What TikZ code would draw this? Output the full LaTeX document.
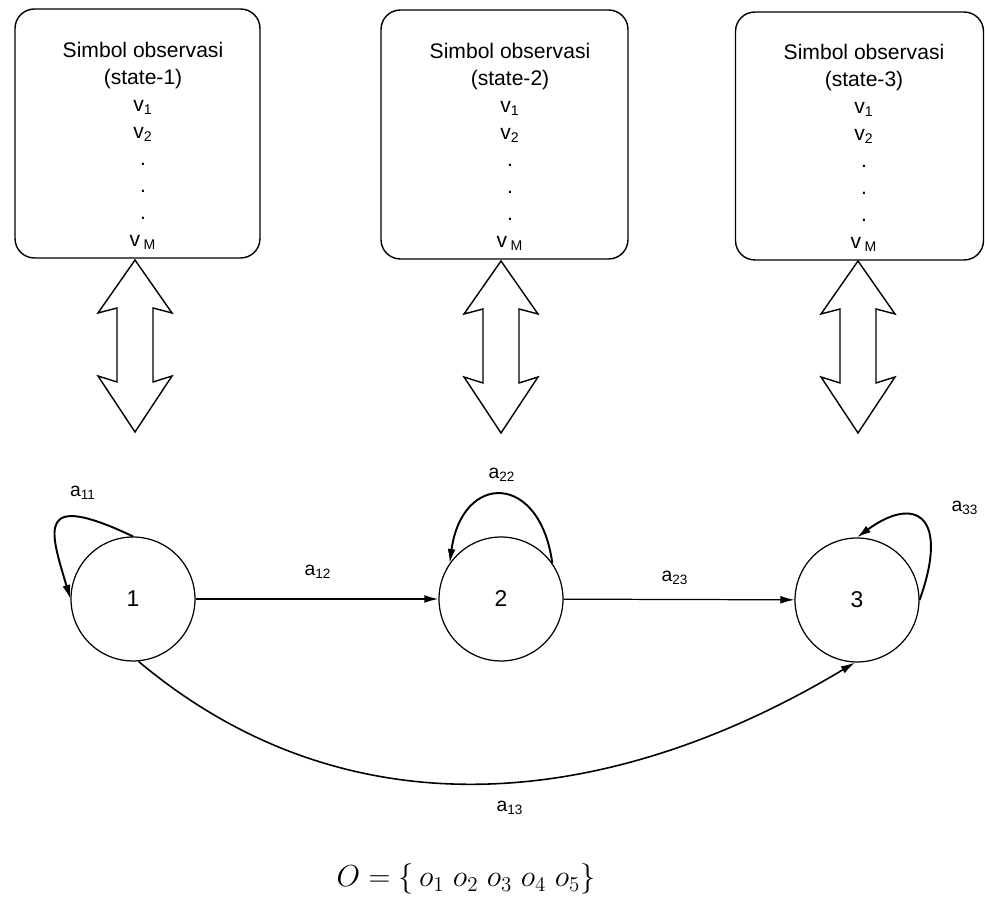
\documentclass[tikz,border=0pt]{standalone}
\usepackage{fontspec}
\setmainfont{Liberation Sans}
\usetikzlibrary{arrows.meta}
\begin{document}
\begin{tikzpicture}[x=0.02cm,y=-0.02cm,
  obsbox/.style={draw, line width=0.8pt, rounded corners=11pt, inner sep=0pt},
  obstext/.style={align=center, inner sep=0pt, font=\fontsize{12}{15.3}\selectfont},
  state/.style={draw, circle, line width=0.7pt, minimum size=2.48cm, inner sep=0pt,
    font=\fontsize{13}{15}\selectfont},
  edge/.style={line width=0.9pt, -{Latex[length=8pt,width=4.5pt]}},
  loopedge/.style={line width=1.1pt, -{Latex[length=8pt,width=4.5pt]}},
  elabel/.style={inner sep=0pt, font=\fontsize{11}{13}\selectfont},
  dblarrow/.pic={
    \draw[line width=0.8pt, line join=miter]
      (0,0) -- (37,53) -- (18,48) -- (18,122) -- (37,116) -- (0,172)
      -- (-37,116) -- (-18,122) -- (-18,48) -- (-37,53) -- cycle;
  }]
\useasboundingbox (0,0) rectangle (985,898);

% observation symbol boxes
\node[obsbox, minimum width=4.9cm, minimum height=4.98cm] (box1) at (137.5,133.5) {};
\node[obsbox, minimum width=4.94cm, minimum height=4.98cm] (box2) at (504.5,134.5) {};
\node[obsbox, minimum width=4.96cm, minimum height=4.96cm] (box3) at (859.5,136) {};

\node[obstext] (txt1) at (143,146) {Simbol observasi\\(state-1)\\v\textsubscript{1}\\v\textsubscript{2}\\.\\.\\.\\v\,\textsubscript{M}};
\node[obstext] (txt2) at (510,147) {Simbol observasi\\(state-2)\\v\textsubscript{1}\\v\textsubscript{2}\\.\\.\\.\\v\,\textsubscript{M}};
\node[obstext] (txt3) at (864,148) {Simbol observasi\\(state-3)\\v\textsubscript{1}\\v\textsubscript{2}\\.\\.\\.\\v\,\textsubscript{M}};

% two-way block arrows
\pic at (135,260) {dblarrow};
\pic at (501,261) {dblarrow};
\pic at (858,261) {dblarrow};

% states
\node[state] (s1) at (133,599) {1};
\node[state] (s2) at (501,599) {2};
\node[state] (s3) at (857,600) {3};

% transitions
\draw[edge] (s1) -- (s2);
\draw[edge, line width=0.7pt] (s2) -- (s3);
\draw[edge] (s1.-85) to[out=-40, in=-149] (s3.-92);

% self loops
\draw[loopedge] (s1.north) .. controls (35,490) and (50,530) .. (s1.west);
\draw[loopedge] (s2.35) .. controls (540,472) and (462,472) .. (s2.145);
\draw[loopedge] (s3.east) .. controls (950,515) and (915,495) .. (s3.north);

% transition labels
\node[elabel] (l11) at (83,493) {a\textsubscript{11}};
\node[elabel] (l12) at (318,572) {a\textsubscript{12}};
\node[elabel] (l22) at (502,475) {a\textsubscript{22}};
\node[elabel] (l23) at (675,578) {a\textsubscript{23}};
\node[elabel] (l33) at (965,508) {a\textsubscript{33}};
\node[elabel] (l13) at (510,808) {a\textsubscript{13}};

% observation sequence
\node[inner sep=0pt, font=\fontsize{17}{20}\selectfont] (obs) at (466,879)
  {$O = \{\,o_1\; o_2\; o_3\; o_4\; o_5\}$};
\end{tikzpicture}
\end{document}
